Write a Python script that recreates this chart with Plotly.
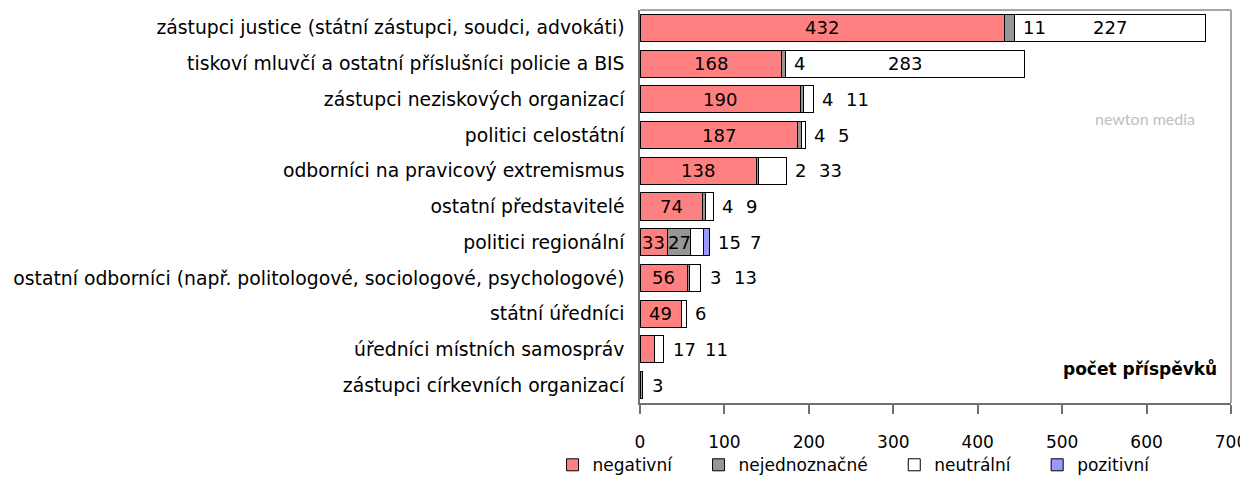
import plotly.graph_objects as go

categories = [
    "zástupci justice (státní zástupci, soudci, advokáti)",
    "tiskoví mluvčí a ostatní příslušníci policie a BIS",
    "zástupci neziskových organizací",
    "politici celostátní",
    "odborníci na pravicový extremismus",
    "ostatní představitelé",
    "politici regionální",
    "ostatní odborníci (např. politologové, sociologové, psychologové)",
    "státní úředníci",
    "úředníci místních samospráv",
    "zástupci církevních organizací",
]
negativni = [432, 168, 190, 187, 138, 74, 33, 56, 49, 17, 3]
nejednoznacne = [11, 4, 4, 4, 2, 4, 27, 3, 0, 0, 0]
neutralni = [227, 283, 11, 5, 33, 9, 15, 13, 6, 11, 0]
pozitivni = [0, 0, 0, 0, 0, 0, 7, 0, 0, 0, 0]

series_names = ["negativní", "nejednoznačné", "neutrální", "pozitivní"]
series_values = [negativni, nejednoznacne, neutralni, pozitivni]
series_colors = ["#FF8080", "#969696", "#FFFFFF", "#9999FF"]
inside_min = [25, 25, 100, 10**9]

FONT = "DejaVu Sans, sans-serif"
FS_CAT = 18.8
FS = 18

fig = go.Figure()
for k, (name, vals, col) in enumerate(zip(series_names, series_values, series_colors)):
    pad = "\u00a0" * 4 if k < 3 else ""
    fig.add_trace(go.Bar(
        y=categories, x=vals, name=name + pad, orientation="h",
        marker=dict(color=col, line=dict(color="#000000", width=1)),
        hoverinfo="x+name",
    ))

annotations = []
for i, cat in enumerate(categories):
    vals = [s[i] for s in series_values]
    starts = []
    acc = 0
    for v in vals:
        starts.append(acc)
        acc += v
    inside = [v > 0 and v >= m for v, m in zip(vals, inside_min)]
    shift = 7
    prev_anchor = None
    for j, v in enumerate(vals):
        if v <= 0:
            continue
        if inside[j]:
            annotations.append(dict(x=starts[j] + v / 2, y=cat, text=str(v),
                                    showarrow=False, xanchor="center",
                                    font=dict(size=FS, color="#000", family=FONT)))
        else:
            end = starts[j] + v
            for jj in range(j + 1, len(vals)):
                if vals[jj] > 0 and inside[jj]:
                    break
                end = starts[jj] + vals[jj]
            if end != prev_anchor:
                shift = 7
                prev_anchor = end
            annotations.append(dict(x=end, y=cat, text=str(v), showarrow=False,
                                    xanchor="left", xshift=shift,
                                    font=dict(size=FS, color="#000", family=FONT)))
            shift += 8 * len(str(v)) + 16

annotations.append(dict(x=0.98, y=0.087, xref="paper", yref="paper",
                        text="<b>počet příspěvků</b>", showarrow=False,
                        xanchor="right", yanchor="middle",
                        font=dict(size=17, color="#000", family=FONT)))
annotations.append(dict(x=0.855, y=0.725, xref="paper", yref="paper",
                        text="newton media", showarrow=False,
                        xanchor="center", yanchor="middle",
                        font=dict(size=16, color="#c0c0c0", family="Lato, sans-serif")))

fig.update_layout(
    barmode="stack",
    bargap=0.24,
    width=1240, height=468,
    margin=dict(l=632, r=17, t=2, b=73),
    paper_bgcolor="white", plot_bgcolor="white",
    font=dict(family=FONT, size=FS, color="#000"),
    showlegend=True,
    legend=dict(orientation="h", x=-0.148, y=0.023, xanchor="left", yanchor="middle",
                yref="container",
                font=dict(size=17, family=FONT), traceorder="normal",
                bgcolor="rgba(0,0,0,0)"),
    annotations=annotations,
    xaxis=dict(range=[0, 700], dtick=100, tick0=0, showgrid=False, zeroline=False,
               showline=True, linecolor="#707070", linewidth=1.5,
               ticks="outside", ticklen=9, tickcolor="#707070", tickwidth=1.5,
               ticklabelstandoff=14, ticklabeloverflow="allow", automargin=False,
               tickfont=dict(size=17, family=FONT)),
    yaxis=dict(autorange="reversed", showgrid=False, showline=True,
               linecolor="#707070", linewidth=1.5, ticks="", ticklen=0,
               ticklabelstandoff=10, automargin=False,
               tickfont=dict(size=FS_CAT, family=FONT)),
    shapes=[
        dict(type="line", xref="x domain", yref="y domain", x0=0, x1=1, y0=1, y1=1,
             line=dict(color="#a6a6a6", width=2)),
        dict(type="line", xref="x domain", yref="y domain", x0=1, x1=1, y0=0, y1=1,
             line=dict(color="#a6a6a6", width=2)),
    ],
)

fig.write_html("out.html")
